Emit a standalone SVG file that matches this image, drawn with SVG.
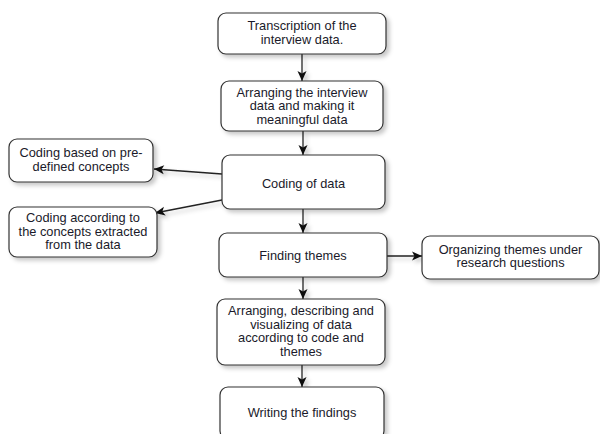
<svg xmlns="http://www.w3.org/2000/svg" width="600" height="434" viewBox="0 0 600 434">
<defs>
<style>
.box{fill:#fff;stroke:#333;stroke-width:1.2}
.t{font-family:"Liberation Sans",Arial,sans-serif;font-size:12.8px;fill:#1a1a2a;text-anchor:middle}
.c{fill:none;stroke:#222;stroke-width:1.3}
</style>
<filter id="sh" x="-10%" y="-10%" width="130%" height="150%">
<feDropShadow dx="3" dy="3" stdDeviation="2" flood-color="#000" flood-opacity="0.22"/>
</filter>
<marker id="ah" markerUnits="userSpaceOnUse" markerWidth="12" markerHeight="12" viewBox="0 0 12 12" refX="11" refY="6" orient="auto">
<path d="M1,1.5 L11,6 L1,10.5 L3.5,6 z" fill="#111"/>
</marker>
</defs>
<rect width="600" height="434" fill="#fff"/>
<g id="connectors" filter="url(#sh)">
<line class="c" x1="302" y1="54" x2="302" y2="81" marker-end="url(#ah)"/>
<line class="c" x1="303" y1="131" x2="303" y2="155" marker-end="url(#ah)"/>
<line class="c" x1="222" y1="174" x2="154" y2="169" marker-end="url(#ah)"/>
<line class="c" x1="222" y1="200" x2="155" y2="213" marker-end="url(#ah)"/>
<line class="c" x1="303" y1="209" x2="303" y2="233" marker-end="url(#ah)"/>
<line class="c" x1="387" y1="256" x2="422" y2="256" marker-end="url(#ah)"/>
<line class="c" x1="303" y1="277" x2="303" y2="299" marker-end="url(#ah)"/>
<line class="c" x1="302" y1="365" x2="302" y2="387" marker-end="url(#ah)"/>
</g>
<g id="n1"><rect class="box" filter="url(#sh)" x="218" y="13" width="168" height="41" rx="8"/>
<text class="t" x="302" y="30">Transcription of the</text><text class="t" x="302" y="44">interview data.</text></g>
<g id="n2"><rect class="box" filter="url(#sh)" x="221" y="81" width="162" height="50" rx="8"/>
<text class="t" x="302" y="96.5">Arranging the interview</text><text class="t" x="302" y="110">data and making it</text><text class="t" x="302" y="123.5">meaningful data</text></g>
<g id="n3"><rect class="box" filter="url(#sh)" x="222" y="155" width="163" height="54" rx="8"/>
<text class="t" x="303.5" y="187.5">Coding of data</text></g>
<g id="nA"><rect class="box" filter="url(#sh)" x="9" y="139" width="144" height="43" rx="8"/>
<text class="t" x="81" y="157">Coding based on pre-</text><text class="t" x="81" y="170.5">defined concepts</text></g>
<g id="nB"><rect class="box" filter="url(#sh)" x="9" y="207" width="148" height="50" rx="8"/>
<text class="t" x="83" y="222">Coding according to</text><text class="t" x="83" y="235.5">the concepts extracted</text><text class="t" x="83" y="249">from the data</text></g>
<g id="n4"><rect class="box" filter="url(#sh)" x="219" y="233" width="168" height="44" rx="8"/>
<text class="t" x="303" y="259.5">Finding themes</text></g>
<g id="n5"><rect class="box" filter="url(#sh)" x="422" y="236" width="177" height="43" rx="8"/>
<text class="t" x="510.5" y="253.5">Organizing themes under</text><text class="t" x="510.5" y="267">research questions</text></g>
<g id="n6"><rect class="box" filter="url(#sh)" x="217" y="299" width="168" height="66" rx="8"/>
<text class="t" x="301" y="315">Arranging, describing and</text><text class="t" x="301" y="328.5">visualizing of data</text><text class="t" x="301" y="342">according to code and</text><text class="t" x="301" y="355.5">themes</text></g>
<g id="n7"><rect class="box" filter="url(#sh)" x="220" y="387" width="164" height="52" rx="8"/>
<text class="t" x="302" y="416.5">Writing the findings</text></g>
</svg>
